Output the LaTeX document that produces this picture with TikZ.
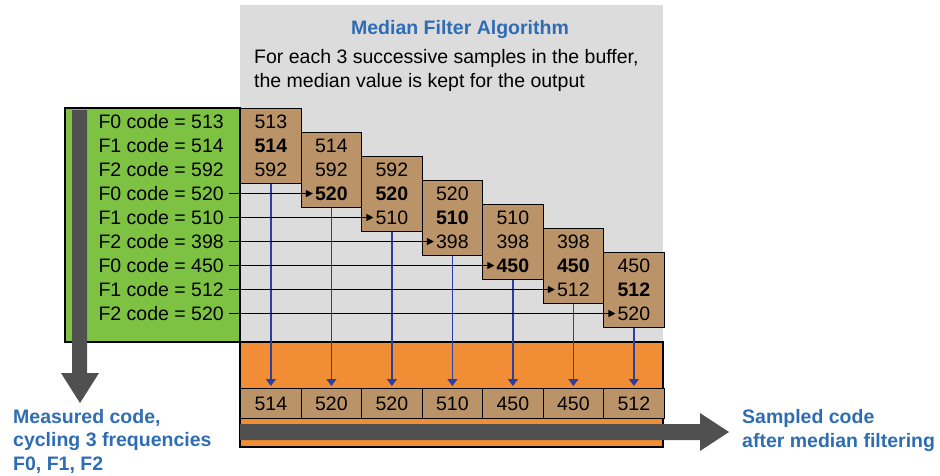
\documentclass[tikz,border=0pt]{standalone}
\usepackage{fontspec}
\setmainfont{Liberation Sans}
\usetikzlibrary{arrows.meta,calc}

\definecolor{bggray}{RGB}{220,220,220}
\definecolor{codegreen}{RGB}{125,194,66}
\definecolor{buftan}{RGB}{186,148,104}
\definecolor{outorange}{RGB}{241,141,53}
\definecolor{bardark}{RGB}{80,80,80}
\definecolor{titleblue}{RGB}{46,109,180}
\definecolor{lineblue}{RGB}{43,63,160}

\begin{document}
\begin{tikzpicture}[x=1pt,y=-1pt,
    font=\fontsize{19.5}{23.5}\selectfont,
    txt/.style={inner sep=2pt, text height=13.6pt, text depth=0pt},
    bufbox/.style={draw=black, fill=buftan, line width=1.3pt, minimum width=60.5pt, minimum height=75pt, inner sep=0pt},
    outcell/.style={draw=black, fill=buftan, line width=1.3pt, minimum width=60.5pt, minimum height=30pt, inner sep=0pt},
    feed/.style={line width=1.2pt, -{Triangle[length=7pt,width=7pt]}},
    pick/.style={lineblue, line width=1.4pt, shorten >=2pt, -{Triangle[length=7pt,width=10pt]}},
    note/.style={text=titleblue, font=\fontsize{19.5}{23.5}\selectfont\bfseries}]
  \useasboundingbox (0,0) rectangle (940,475);

  % panels
  \fill[bggray] (240,5) rectangle (663,342);
  \draw[fill=outorange, line width=1.5pt] (240,342) rectangle (663,447);
  \draw[fill=codegreen, line width=1.3pt] (65,108) rectangle (240,342);

  % algorithm text
  \node[note, anchor=base, inner sep=0pt] (title) at (460,34) {Median Filter Algorithm};
  \node[anchor=base west, inner sep=0pt] (rule1) at (254,63) {For each 3 successive samples in the buffer,};
  \node[anchor=base west, inner sep=0pt] (rule2) at (254,87.5) {the median value is kept for the output};

  % input stream
  \fill[bardark] (72,110) -- (87,110) -- (87,373) -- (99,373) -- (80,403) -- (61,373) -- (72,373) -- cycle;
  \foreach \v [count=\r] in {513,514,592,520,510,398,450,512,520} {
    \pgfmathtruncatemacro\f{mod(\r-1,3)}
    \node[txt, anchor=east, inner xsep=5pt] (in\r) at (229,{121.5+(\r-1)*24}) {F\f{} code = \v};
  }

  % buffer windows
  \foreach \one/\two/\three/\med [count=\k] in {513/\textbf{514}/592/514, 514/592/\textbf{520}/520,
      592/\textbf{520}/510/520, 520/\textbf{510}/398/510, 510/398/\textbf{450}/450,
      398/\textbf{450}/512/450, 450/\textbf{512}/520/512} {
    \node[bufbox, anchor=north west] (box\k) at ({240+(\k-1)*60.5},{108+(\k-1)*24}) {};
    \node[txt] (w\k-1) at ($(box\k.north)+(0,13.5)$) {\one};
    \node[txt] (w\k-2) at ($(box\k.north)+(0,37.5)$) {\two};
    \node[txt] (w\k-3) at ($(box\k.north)+(0,61.5)$) {\three};
    \node[outcell, anchor=north west] (out\k) at ({240+(\k-1)*60.5},388) {\med};
    \draw[pick] (box\k.south) -- (out\k.north);
  }

  % new sample entering each window
  \foreach \k in {2,...,7} {
    \pgfmathtruncatemacro\r{\k+2}
    \draw[feed] (in\r.east) -- (w\k-3.west);
  }

  % output stream
  \fill[bardark] (240,424) -- (700,424) -- (700,413) -- (729,432) -- (700,451) -- (700,440) -- (240,440) -- cycle;

  \node[note, anchor=base west, align=left, inner sep=0pt] (measured) at (13,470) {Measured code,\\cycling 3 frequencies\\F0, F1, F2};
  \node[note, anchor=base west, align=left, inner sep=0pt] (sampled) at (742,447) {Sampled code\\after median filtering};
\end{tikzpicture}
\end{document}
